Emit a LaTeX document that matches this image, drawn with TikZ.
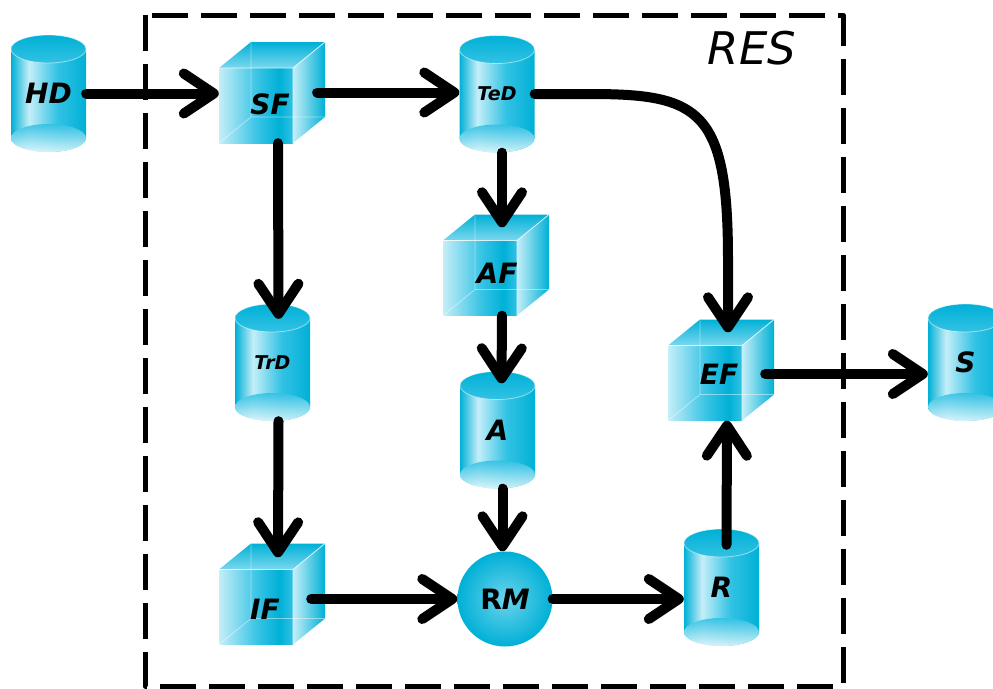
\documentclass[tikz,border=0pt]{standalone}
\usepackage{fontspec}
\setmainfont{DejaVu Sans}
\usetikzlibrary{arrows.meta,calc}
\definecolor{cyandark}{RGB}{0,176,214}
\definecolor{cyanmid}{RGB}{50,194,228}
\definecolor{cyanlight}{RGB}{196,238,248}
% shadings for the store cylinders and the step cubes
\pgfdeclarehorizontalshading{cylbody}{100bp}{color(0bp)=(cyandark); color(25bp)=(cyandark); color(37bp)=(cyanlight); color(56bp)=(cyanmid); color(75bp)=(cyandark); color(100bp)=(cyandark)}
\pgfdeclarehorizontalshading{cubefront}{100bp}{color(0bp)=(cyanlight); color(25bp)=(cyanlight); color(52bp)=(cyanmid); color(66bp)=(cyandark); color(75bp)=(cyanmid); color(100bp)=(cyanmid)}

\tikzset{
  tag/.style={font=\fontsize{28pt}{28pt}\selectfont\bfseries\itshape, inner sep=0pt},
  small/.style={font=\fontsize{19pt}{19pt}\selectfont\bfseries\itshape},
  cylnode/.style={tag, rectangle, minimum width=75pt, minimum height=117pt},
  cubenode/.style={rectangle, minimum width=106pt, minimum height=101pt, inner sep=0pt},
  flow/.style={line width=10pt, line cap=round, -{Straight Barb[round,length=30pt,width=40pt]}}
}

% data store: name, centre, text
\newcommand{\storecyl}[4][]{%
  \begin{scope}[shift={(#3)}]
    \shade[shading=cylbody] (-37.5,-44.5) -- (-37.5,44.5)
      arc[start angle=180, end angle=360, x radius=37.5pt, y radius=14pt]
      -- (37.5,-44.5) -- cycle;
    \shade[top color=cyanmid, bottom color=cyanlight!50!white, opacity=.9] (0,44.5) ellipse (37.5pt and 14pt);
    \shade[top color=cyandark, bottom color=cyanmid] (0,-44.5) ellipse (37.5pt and 14pt);
    \draw[white, opacity=.5, line width=.8pt] (0,-44.5) ellipse (37.5pt and 14pt);
  \end{scope}
  \node[cylnode,#1] (#2) at (#3) {#4};
}

% processing step: name, front face centre, text, text position
\newcommand{\stepcube}[4]{%
  \begin{scope}[shift={(#2)}]
    % side and top faces
    \shade[left color=cyanlight, right color=cyandark] (37,-37.5) -- (69,-63.5) -- (69,11.5) -- (37,37.5) -- cycle;
    \shade[top color=cyandark, bottom color=cyanlight!50!cyanmid] (-37,-37.5) -- (-5,-63.5) -- (69,-63.5) -- (37,-37.5) -- cycle;
    % front face
    \shade[shading=cubefront] (-37,-37.5) rectangle (37,37.5);
    % edges seen through the faces
    \draw[white, opacity=.45, line width=.8pt] (-37,37.5) -- (-5,11.5) -- (69,11.5) (-5,11.5) -- (-5,-63.5);
    \draw[white, opacity=.8, line width=.8pt] (-37,-37.5) -- (37,-37.5) -- (37,37.5) (37,-37.5) -- (69,-63.5);
    \node[tag] (#1-txt) at (#4) {#3};
  \end{scope}
  \node[cubenode] (#1) at ($(#2)+(16,-13)$) {};
}

\begin{document}
\begin{tikzpicture}[x=1pt,y=-1pt]
    \useasboundingbox (0,0) rectangle (993,688);
    % RES boundary
    \draw[line width=5pt, dash pattern=on 36pt off 13pt, line join=round] (145,15) rectangle (843,686);
    \node[font=\fontsize{45pt}{45pt}\selectfont\itshape, inner sep=0pt] (res) at (752,48) {RES};
    % stores
    \storecyl{HD}{48.5,93.5}{HD}
    \storecyl[small]{TeD}{497,94}{TeD}
    \storecyl[small]{TrD}{272.5,362.5}{TrD}
    \storecyl{A}{497.5,430}{A}
    \storecyl{R}{721.5,587.5}{R}
    \storecyl{S}{965.5,362.5}{S}
    % steps
    \stepcube{SF}{256,105.5}{SF}{14,-1.5}
    \stepcube{AF}{480,278}{AF}{17,-5}
    \stepcube{EF}{705,383}{EF}{14,-9}
    \stepcube{IF}{256,607}{IF}{9,2}
    \node[tag, circle, minimum size=95pt, inner color=cyanlight!40!cyanmid, outer color=cyandark] (RM) at (505,599) {\upshape R\itshape M};
    % flows
    \draw[flow] (HD.east) -- (SF.west |- HD.east);
    \draw[flow] ([xshift=-8pt]SF.east) -- (TeD.west |- SF.east);
    \draw[flow] ([xshift=6pt]SF.south) -- ([xshift=6pt,yshift=-15pt]TrD.north);
    \draw[flow] ([xshift=6pt]TrD.south) -- ([xshift=6pt,yshift=-14pt]IF.north);
    \draw[flow] ([xshift=5pt]TeD.south) -- ([xshift=6pt,yshift=-13pt]AF.north);
    \draw[flow] ([xshift=6pt]AF.south) -- ([xshift=4pt,yshift=-12pt]A.north);
    \draw[flow] ([xshift=5pt]A.south) -- ([xshift=5pt]A.south |- RM.north);
    \draw[flow] ($(IF.east |- RM.west)+(-14,0)$) -- (RM.west);
    \draw[flow] (RM.east) -- (R.west |- RM.east);
    \draw[flow] ([xshift=5pt,yshift=-16pt]R.north) -- ([xshift=6pt]EF.south);
    \draw[flow] ($(EF.east)+(-9,4)$) -- ($(S.west)+(0,11.5)$);
    \draw[flow] (TeD.east) -- (590,94) .. controls (700,94) and (728,110) .. (728,260) -- ([xshift=7pt,yshift=-13pt]EF.north);
\end{tikzpicture}
\end{document}
